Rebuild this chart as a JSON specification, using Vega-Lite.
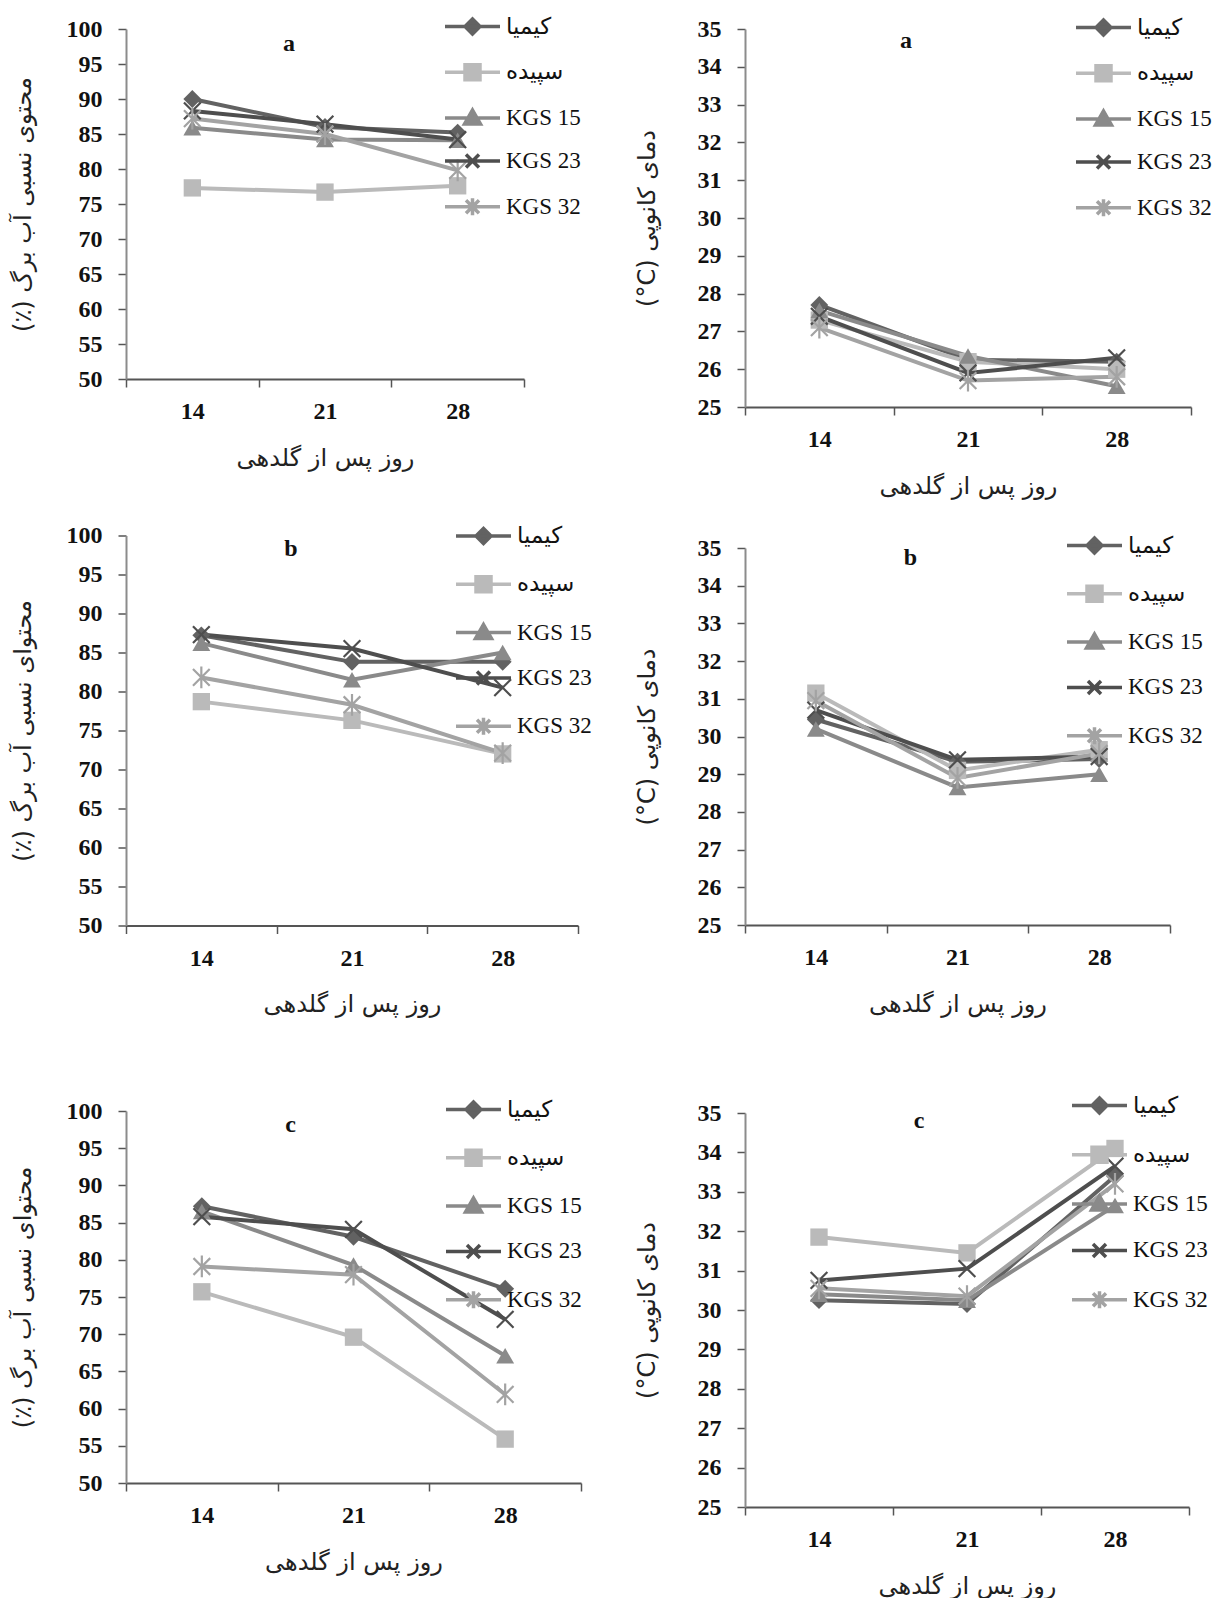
{
  "$schema": "https://vega.github.io/schema/vega-lite/v6.json",
  "background": "white",
  "padding": {"top": 14, "left": 11, "right": 0, "bottom": 0},
  "data": {"values": [
    {"panel": "ra", "day": 14, "cultivar": "کیمیا", "value": 90.0},
    {"panel": "ra", "day": 21, "cultivar": "کیمیا", "value": 86.0},
    {"panel": "ra", "day": 28, "cultivar": "کیمیا", "value": 85.2},
    {"panel": "ra", "day": 14, "cultivar": "سپیده", "value": 77.3},
    {"panel": "ra", "day": 21, "cultivar": "سپیده", "value": 76.7},
    {"panel": "ra", "day": 28, "cultivar": "سپیده", "value": 77.6},
    {"panel": "ra", "day": 14, "cultivar": "KGS 15", "value": 85.9},
    {"panel": "ra", "day": 21, "cultivar": "KGS 15", "value": 84.2},
    {"panel": "ra", "day": 28, "cultivar": "KGS 15", "value": 84.1},
    {"panel": "ra", "day": 14, "cultivar": "KGS 23", "value": 88.3},
    {"panel": "ra", "day": 21, "cultivar": "KGS 23", "value": 86.4},
    {"panel": "ra", "day": 28, "cultivar": "KGS 23", "value": 84.2},
    {"panel": "ra", "day": 14, "cultivar": "KGS 32", "value": 87.2},
    {"panel": "ra", "day": 21, "cultivar": "KGS 32", "value": 85.0},
    {"panel": "ra", "day": 28, "cultivar": "KGS 32", "value": 79.8},

    {"panel": "ta", "day": 14, "cultivar": "کیمیا", "value": 27.7},
    {"panel": "ta", "day": 21, "cultivar": "کیمیا", "value": 26.25},
    {"panel": "ta", "day": 28, "cultivar": "کیمیا", "value": 26.2},
    {"panel": "ta", "day": 14, "cultivar": "سپیده", "value": 27.3},
    {"panel": "ta", "day": 21, "cultivar": "سپیده", "value": 26.2},
    {"panel": "ta", "day": 28, "cultivar": "سپیده", "value": 26.0},
    {"panel": "ta", "day": 14, "cultivar": "KGS 15", "value": 27.55},
    {"panel": "ta", "day": 21, "cultivar": "KGS 15", "value": 26.35},
    {"panel": "ta", "day": 28, "cultivar": "KGS 15", "value": 25.55},
    {"panel": "ta", "day": 14, "cultivar": "KGS 23", "value": 27.4},
    {"panel": "ta", "day": 21, "cultivar": "KGS 23", "value": 25.9},
    {"panel": "ta", "day": 28, "cultivar": "KGS 23", "value": 26.3},
    {"panel": "ta", "day": 14, "cultivar": "KGS 32", "value": 27.1},
    {"panel": "ta", "day": 21, "cultivar": "KGS 32", "value": 25.7},
    {"panel": "ta", "day": 28, "cultivar": "KGS 32", "value": 25.8},

    {"panel": "rb", "day": 14, "cultivar": "کیمیا", "value": 87.2},
    {"panel": "rb", "day": 21, "cultivar": "کیمیا", "value": 83.8},
    {"panel": "rb", "day": 28, "cultivar": "کیمیا", "value": 83.8},
    {"panel": "rb", "day": 14, "cultivar": "سپیده", "value": 78.7},
    {"panel": "rb", "day": 21, "cultivar": "سپیده", "value": 76.3},
    {"panel": "rb", "day": 28, "cultivar": "سپیده", "value": 72.0},
    {"panel": "rb", "day": 14, "cultivar": "KGS 15", "value": 86.2},
    {"panel": "rb", "day": 21, "cultivar": "KGS 15", "value": 81.5},
    {"panel": "rb", "day": 28, "cultivar": "KGS 15", "value": 85.0},
    {"panel": "rb", "day": 14, "cultivar": "KGS 23", "value": 87.3},
    {"panel": "rb", "day": 21, "cultivar": "KGS 23", "value": 85.5},
    {"panel": "rb", "day": 28, "cultivar": "KGS 23", "value": 80.5},
    {"panel": "rb", "day": 14, "cultivar": "KGS 32", "value": 81.8},
    {"panel": "rb", "day": 21, "cultivar": "KGS 32", "value": 78.3},
    {"panel": "rb", "day": 28, "cultivar": "KGS 32", "value": 72.1},

    {"panel": "tb", "day": 14, "cultivar": "کیمیا", "value": 30.45},
    {"panel": "tb", "day": 21, "cultivar": "کیمیا", "value": 29.33},
    {"panel": "tb", "day": 28, "cultivar": "کیمیا", "value": 29.4},
    {"panel": "tb", "day": 14, "cultivar": "سپیده", "value": 31.15},
    {"panel": "tb", "day": 21, "cultivar": "سپیده", "value": 29.1},
    {"panel": "tb", "day": 28, "cultivar": "سپیده", "value": 29.65},
    {"panel": "tb", "day": 14, "cultivar": "KGS 15", "value": 30.2},
    {"panel": "tb", "day": 21, "cultivar": "KGS 15", "value": 28.65},
    {"panel": "tb", "day": 28, "cultivar": "KGS 15", "value": 29.0},
    {"panel": "tb", "day": 14, "cultivar": "KGS 23", "value": 30.7},
    {"panel": "tb", "day": 21, "cultivar": "KGS 23", "value": 29.38},
    {"panel": "tb", "day": 28, "cultivar": "KGS 23", "value": 29.47},
    {"panel": "tb", "day": 14, "cultivar": "KGS 32", "value": 30.95},
    {"panel": "tb", "day": 21, "cultivar": "KGS 32", "value": 28.9},
    {"panel": "tb", "day": 28, "cultivar": "KGS 32", "value": 29.55},

    {"panel": "rc", "day": 14, "cultivar": "کیمیا", "value": 87.2},
    {"panel": "rc", "day": 21, "cultivar": "کیمیا", "value": 83.1},
    {"panel": "rc", "day": 28, "cultivar": "کیمیا", "value": 76.1},
    {"panel": "rc", "day": 14, "cultivar": "سپیده", "value": 75.7},
    {"panel": "rc", "day": 21, "cultivar": "سپیده", "value": 69.6},
    {"panel": "rc", "day": 28, "cultivar": "سپیده", "value": 55.9},
    {"panel": "rc", "day": 14, "cultivar": "KGS 15", "value": 86.5},
    {"panel": "rc", "day": 21, "cultivar": "KGS 15", "value": 79.3},
    {"panel": "rc", "day": 28, "cultivar": "KGS 15", "value": 67.1},
    {"panel": "rc", "day": 14, "cultivar": "KGS 23", "value": 85.8},
    {"panel": "rc", "day": 21, "cultivar": "KGS 23", "value": 84.1},
    {"panel": "rc", "day": 28, "cultivar": "KGS 23", "value": 72.0},
    {"panel": "rc", "day": 14, "cultivar": "KGS 32", "value": 79.1},
    {"panel": "rc", "day": 21, "cultivar": "KGS 32", "value": 78.0},
    {"panel": "rc", "day": 28, "cultivar": "KGS 32", "value": 61.9},

    {"panel": "tc", "day": 14, "cultivar": "کیمیا", "value": 30.25},
    {"panel": "tc", "day": 21, "cultivar": "کیمیا", "value": 30.15},
    {"panel": "tc", "day": 28, "cultivar": "کیمیا", "value": 33.4},
    {"panel": "tc", "day": 14, "cultivar": "سپیده", "value": 31.85},
    {"panel": "tc", "day": 21, "cultivar": "سپیده", "value": 31.45},
    {"panel": "tc", "day": 28, "cultivar": "سپیده", "value": 34.1},
    {"panel": "tc", "day": 14, "cultivar": "KGS 15", "value": 30.4},
    {"panel": "tc", "day": 21, "cultivar": "KGS 15", "value": 30.25},
    {"panel": "tc", "day": 28, "cultivar": "KGS 15", "value": 32.65},
    {"panel": "tc", "day": 14, "cultivar": "KGS 23", "value": 30.75},
    {"panel": "tc", "day": 21, "cultivar": "KGS 23", "value": 31.05},
    {"panel": "tc", "day": 28, "cultivar": "KGS 23", "value": 33.65},
    {"panel": "tc", "day": 14, "cultivar": "KGS 32", "value": 30.55},
    {"panel": "tc", "day": 21, "cultivar": "KGS 32", "value": 30.35},
    {"panel": "tc", "day": 28, "cultivar": "KGS 32", "value": 33.2}
  ]},
  "config": {
    "view": {"stroke": null},
    "axis": {
      "labelFont": "Liberation Serif", "labelFontSize": 24, "labelFontWeight": "bold", "labelColor": "#111111",
      "titleFont": "DejaVu Sans", "titleFontSize": 24, "titleFontWeight": "normal", "titleColor": "#222222",
      "grid": false, "tickColor": "#555555", "tickSize": 8, "tickWidth": 1.5, "domainColor": "#8c8c8c", "domainWidth": 2
    },
    "axisX": {"domainColor": "#555555", "labelAngle": 0, "labelPadding": 12.5, "titlePadding": 22.5, "tickBand": "extent"},
    "axisY": {"labelPadding": 16, "titlePadding": 30.5},
    "legend": {
      "orient": "none", "title": null, "padding": 0, "offset": 0,
      "labelFont": "Liberation Serif, DejaVu Sans", "labelFontSize": 23, "labelColor": "#111111", "labelOffset": 4, "labelLimit": 200,
      "symbolSize": 400, "symbolStrokeWidth": 3.5, "symbolOpacity": 1
    },
    "title": {"font": "Liberation Serif", "fontSize": 24, "fontWeight": "bold", "color": "#111111", "anchor": "middle"}
  },
  "resolve": {"scale": {"color": "independent", "shape": "independent", "x": "independent", "y": "independent"}, "legend": {"color": "independent", "shape": "independent"}},
  "spacing": 43,
  "hconcat": [
    {
      "spacing": 53.5,
      "resolve": {"scale": {"color": "independent", "shape": "independent", "x": "independent", "y": "independent"}, "legend": {"color": "independent", "shape": "independent"}},
      "vconcat": [
        {
          "width": 398, "height": 350,
          "title": {"text": "a", "dx": -36, "offset": -23, "dy": 18},
          "transform": [{"filter": "datum.panel === 'ra'"}],
          "encoding": {
            "x": {"field": "day", "type": "ordinal", "scale": {"type": "band", "paddingInner": 0, "paddingOuter": 0}, "axis": {"title": "روز پس از گلدهی"}},
            "y": {"field": "value", "type": "quantitative", "scale": {"domain": [50, 100], "nice": false, "zero": false}, "axis": {"values": [50, 55, 60, 65, 70, 75, 80, 85, 90, 95, 100], "title": "(٪) محتوی نسبی آب برگ"}},
            "color": {"field": "cultivar", "type": "nominal", "scale": {"domain": ["کیمیا", "سپیده", "KGS 15", "KGS 23", "KGS 32"], "range": ["#626262", "#bababa", "#8a8a8a", "#4e4e4e", "#a3a3a3"]}, "legend": {"legendX": 352, "legendY": -14.5, "rowPadding": 15.8}}
          },
          "layer": [
            {"mark": {"type": "line", "strokeWidth": 4}},
            {"transform": [{"filter": "datum.cultivar === 'کیمیا'"}], "mark": {"type": "point", "shape": "diamond", "filled": true, "size": 320, "opacity": 1}},
            {"transform": [{"filter": "datum.cultivar === 'سپیده'"}], "mark": {"type": "point", "shape": "square", "filled": true, "size": 300, "opacity": 1}},
            {"transform": [{"filter": "datum.cultivar === 'KGS 15'"}], "mark": {"type": "point", "shape": "triangle-up", "filled": true, "size": 320, "opacity": 1}},
            {"transform": [{"filter": "datum.cultivar === 'KGS 23'"}], "mark": {"type": "point", "shape": "M-1,-1L1,1M-1,1L1,-1", "filled": false, "size": 280, "strokeWidth": 2.2, "opacity": 1}},
            {"transform": [{"filter": "datum.cultivar === 'KGS 32'"}], "mark": {"type": "point", "shape": "M-1,-1L1,1M-1,1L1,-1M0,-1.3V1.3", "filled": false, "size": 280, "strokeWidth": 2.2, "opacity": 1}},
            {"transform": [{"filter": "false"}], "mark": {"type": "point", "filled": true, "strokeWidth": 3.5},
             "encoding": {"shape": {"field": "cultivar", "type": "nominal", "scale": {"domain": ["کیمیا", "سپیده", "KGS 15", "KGS 23", "KGS 32"], "range": ["M-4.5,0H1M-1.75,-0.75L-1,0L-1.75,0.75L-2.5,0Z", "M-4.5,0H1M-2.5,-0.75H-1V0.75H-2.5Z", "M-4.5,0H1M-1.75,-0.8L-0.95,0.6H-2.55Z", "M-4.5,0H1M-2.4,-0.65L-1.1,0.65M-2.4,0.65L-1.1,-0.65", "M-4.5,0H1M-2.4,-0.65L-1.1,0.65M-2.4,0.65L-1.1,-0.65M-1.75,-0.85V0.85"]}, "legend": {"legendX": 352, "legendY": -14.5, "rowPadding": 15.8}}}}
          ]
        },
        {
          "spacing": 80.5,
          "resolve": {"scale": {"color": "independent", "shape": "independent", "x": "independent", "y": "independent"}, "legend": {"color": "independent", "shape": "independent"}},
          "vconcat": [
            {
              "width": 452, "height": 390,
              "title": {"text": "b", "dx": -61, "offset": -23, "dy": 14},
              "transform": [{"filter": "datum.panel === 'rb'"}],
              "encoding": {
                "x": {"field": "day", "type": "ordinal", "scale": {"type": "band", "paddingInner": 0, "paddingOuter": 0}, "axis": {"title": "روز پس از گلدهی"}},
                "y": {"field": "value", "type": "quantitative", "scale": {"domain": [50, 100], "nice": false, "zero": false}, "axis": {"values": [50, 55, 60, 65, 70, 75, 80, 85, 90, 95, 100], "title": "(٪) محتوای نسبی آب برگ"}},
                "color": {"field": "cultivar", "type": "nominal", "scale": {"domain": ["کیمیا", "سپیده", "KGS 15", "KGS 23", "KGS 32"], "range": ["#626262", "#bababa", "#8a8a8a", "#4e4e4e", "#a3a3a3"]}, "legend": {"legendX": 363, "legendY": -11.5, "rowPadding": 18.3}}
              },
              "layer": [
                {"mark": {"type": "line", "strokeWidth": 4}},
                {"transform": [{"filter": "datum.cultivar === 'کیمیا'"}], "mark": {"type": "point", "shape": "diamond", "filled": true, "size": 320, "opacity": 1}},
                {"transform": [{"filter": "datum.cultivar === 'سپیده'"}], "mark": {"type": "point", "shape": "square", "filled": true, "size": 300, "opacity": 1}},
                {"transform": [{"filter": "datum.cultivar === 'KGS 15'"}], "mark": {"type": "point", "shape": "triangle-up", "filled": true, "size": 320, "opacity": 1}},
                {"transform": [{"filter": "datum.cultivar === 'KGS 23'"}], "mark": {"type": "point", "shape": "M-1,-1L1,1M-1,1L1,-1", "filled": false, "size": 280, "strokeWidth": 2.2, "opacity": 1}},
                {"transform": [{"filter": "datum.cultivar === 'KGS 32'"}], "mark": {"type": "point", "shape": "M-1,-1L1,1M-1,1L1,-1M0,-1.3V1.3", "filled": false, "size": 280, "strokeWidth": 2.2, "opacity": 1}},
                {"transform": [{"filter": "false"}], "mark": {"type": "point", "filled": true, "strokeWidth": 3.5},
                 "encoding": {"shape": {"field": "cultivar", "type": "nominal", "scale": {"domain": ["کیمیا", "سپیده", "KGS 15", "KGS 23", "KGS 32"], "range": ["M-4.5,0H1M-1.75,-0.75L-1,0L-1.75,0.75L-2.5,0Z", "M-4.5,0H1M-2.5,-0.75H-1V0.75H-2.5Z", "M-4.5,0H1M-1.75,-0.8L-0.95,0.6H-2.55Z", "M-4.5,0H1M-2.4,-0.65L-1.1,0.65M-2.4,0.65L-1.1,-0.65", "M-4.5,0H1M-2.4,-0.65L-1.1,0.65M-2.4,0.65L-1.1,-0.65M-1.75,-0.85V0.85"]}, "legend": {"legendX": 363, "legendY": -11.5, "rowPadding": 18.3}}}}
              ]
            },
            {
              "width": 455, "height": 372,
              "title": {"text": "c", "dx": -63, "offset": -23, "dy": 16.5},
              "transform": [{"filter": "datum.panel === 'rc'"}],
              "encoding": {
                "x": {"field": "day", "type": "ordinal", "scale": {"type": "band", "paddingInner": 0, "paddingOuter": 0}, "axis": {"title": "روز پس از گلدهی"}},
                "y": {"field": "value", "type": "quantitative", "scale": {"domain": [50, 100], "nice": false, "zero": false}, "axis": {"values": [50, 55, 60, 65, 70, 75, 80, 85, 90, 95, 100], "title": "(٪) محتوای نسبی آب برگ"}},
                "color": {"field": "cultivar", "type": "nominal", "scale": {"domain": ["کیمیا", "سپیده", "KGS 15", "KGS 23", "KGS 32"], "range": ["#626262", "#bababa", "#8a8a8a", "#4e4e4e", "#a3a3a3"]}, "legend": {"legendX": 353, "legendY": -13.5, "rowPadding": 18.3}}
              },
              "layer": [
                {"mark": {"type": "line", "strokeWidth": 4}},
                {"transform": [{"filter": "datum.cultivar === 'کیمیا'"}], "mark": {"type": "point", "shape": "diamond", "filled": true, "size": 320, "opacity": 1}},
                {"transform": [{"filter": "datum.cultivar === 'سپیده'"}], "mark": {"type": "point", "shape": "square", "filled": true, "size": 300, "opacity": 1}},
                {"transform": [{"filter": "datum.cultivar === 'KGS 15'"}], "mark": {"type": "point", "shape": "triangle-up", "filled": true, "size": 320, "opacity": 1}},
                {"transform": [{"filter": "datum.cultivar === 'KGS 23'"}], "mark": {"type": "point", "shape": "M-1,-1L1,1M-1,1L1,-1", "filled": false, "size": 280, "strokeWidth": 2.2, "opacity": 1}},
                {"transform": [{"filter": "datum.cultivar === 'KGS 32'"}], "mark": {"type": "point", "shape": "M-1,-1L1,1M-1,1L1,-1M0,-1.3V1.3", "filled": false, "size": 280, "strokeWidth": 2.2, "opacity": 1}},
                {"transform": [{"filter": "false"}], "mark": {"type": "point", "filled": true, "strokeWidth": 3.5},
                 "encoding": {"shape": {"field": "cultivar", "type": "nominal", "scale": {"domain": ["کیمیا", "سپیده", "KGS 15", "KGS 23", "KGS 32"], "range": ["M-4.5,0H1M-1.75,-0.75L-1,0L-1.75,0.75L-2.5,0Z", "M-4.5,0H1M-2.5,-0.75H-1V0.75H-2.5Z", "M-4.5,0H1M-1.75,-0.8L-0.95,0.6H-2.55Z", "M-4.5,0H1M-2.4,-0.65L-1.1,0.65M-2.4,0.65L-1.1,-0.65", "M-4.5,0H1M-2.4,-0.65L-1.1,0.65M-2.4,0.65L-1.1,-0.65M-1.75,-0.85V0.85"]}, "legend": {"legendX": 353, "legendY": -13.5, "rowPadding": 18.3}}}}
              ]
            }
          ]
        }
      ]
    },
    {
      "spacing": 35,
      "resolve": {"scale": {"color": "independent", "shape": "independent", "x": "independent", "y": "independent"}, "legend": {"color": "independent", "shape": "independent"}},
      "vconcat": [
        {
          "width": 446, "height": 378,
          "title": {"text": "a", "dx": -62, "offset": -23, "dy": 14},
          "transform": [{"filter": "datum.panel === 'ta'"}],
          "encoding": {
            "x": {"field": "day", "type": "ordinal", "scale": {"type": "band", "paddingInner": 0, "paddingOuter": 0}, "axis": {"title": "روز پس از گلدهی"}},
            "y": {"field": "value", "type": "quantitative", "scale": {"domain": [25, 35], "nice": false, "zero": false}, "axis": {"values": [25, 26, 27, 28, 29, 30, 31, 32, 33, 34, 35], "title": "(°C) دمای کانوپی", "titlePadding": 37.5}},
            "color": {"field": "cultivar", "type": "nominal", "scale": {"domain": ["کیمیا", "سپیده", "KGS 15", "KGS 23", "KGS 32"], "range": ["#626262", "#bababa", "#8a8a8a", "#4e4e4e", "#a3a3a3"]}, "legend": {"legendX": 364, "legendY": -13.5, "rowPadding": 15.8}}
          },
          "layer": [
            {"mark": {"type": "line", "strokeWidth": 4}},
            {"transform": [{"filter": "datum.cultivar === 'کیمیا'"}], "mark": {"type": "point", "shape": "diamond", "filled": true, "size": 320, "opacity": 1}},
            {"transform": [{"filter": "datum.cultivar === 'سپیده'"}], "mark": {"type": "point", "shape": "square", "filled": true, "size": 300, "opacity": 1}},
            {"transform": [{"filter": "datum.cultivar === 'KGS 15'"}], "mark": {"type": "point", "shape": "triangle-up", "filled": true, "size": 320, "opacity": 1}},
            {"transform": [{"filter": "datum.cultivar === 'KGS 23'"}], "mark": {"type": "point", "shape": "M-1,-1L1,1M-1,1L1,-1", "filled": false, "size": 280, "strokeWidth": 2.2, "opacity": 1}},
            {"transform": [{"filter": "datum.cultivar === 'KGS 32'"}], "mark": {"type": "point", "shape": "M-1,-1L1,1M-1,1L1,-1M0,-1.3V1.3", "filled": false, "size": 280, "strokeWidth": 2.2, "opacity": 1}},
            {"transform": [{"filter": "false"}], "mark": {"type": "point", "filled": true, "strokeWidth": 3.5},
             "encoding": {"shape": {"field": "cultivar", "type": "nominal", "scale": {"domain": ["کیمیا", "سپیده", "KGS 15", "KGS 23", "KGS 32"], "range": ["M-4.5,0H1M-1.75,-0.75L-1,0L-1.75,0.75L-2.5,0Z", "M-4.5,0H1M-2.5,-0.75H-1V0.75H-2.5Z", "M-4.5,0H1M-1.75,-0.8L-0.95,0.6H-2.55Z", "M-4.5,0H1M-2.4,-0.65L-1.1,0.65M-2.4,0.65L-1.1,-0.65", "M-4.5,0H1M-2.4,-0.65L-1.1,0.65M-2.4,0.65L-1.1,-0.65M-1.75,-0.85V0.85"]}, "legend": {"legendX": 364, "legendY": -13.5, "rowPadding": 15.8}}}}
          ]
        },
        {
          "spacing": 77,
          "resolve": {"scale": {"color": "independent", "shape": "independent", "x": "independent", "y": "independent"}, "legend": {"color": "independent", "shape": "independent"}},
          "vconcat": [
            {
              "width": 425, "height": 377,
              "title": {"text": "b", "dx": -47, "offset": -23, "dy": 13.5},
              "transform": [{"filter": "datum.panel === 'tb'"}],
              "encoding": {
                "x": {"field": "day", "type": "ordinal", "scale": {"type": "band", "paddingInner": 0, "paddingOuter": 0}, "axis": {"title": "روز پس از گلدهی"}},
                "y": {"field": "value", "type": "quantitative", "scale": {"domain": [25, 35], "nice": false, "zero": false}, "axis": {"values": [25, 26, 27, 28, 29, 30, 31, 32, 33, 34, 35], "title": "(°C) دمای کانوپی", "titlePadding": 37.5}},
                "color": {"field": "cultivar", "type": "nominal", "scale": {"domain": ["کیمیا", "سپیده", "KGS 15", "KGS 23", "KGS 32"], "range": ["#626262", "#bababa", "#8a8a8a", "#4e4e4e", "#a3a3a3"]}, "legend": {"legendX": 355, "legendY": -14.5, "rowPadding": 18.3}}
              },
              "layer": [
                {"mark": {"type": "line", "strokeWidth": 4}},
                {"transform": [{"filter": "datum.cultivar === 'کیمیا'"}], "mark": {"type": "point", "shape": "diamond", "filled": true, "size": 320, "opacity": 1}},
                {"transform": [{"filter": "datum.cultivar === 'سپیده'"}], "mark": {"type": "point", "shape": "square", "filled": true, "size": 300, "opacity": 1}},
                {"transform": [{"filter": "datum.cultivar === 'KGS 15'"}], "mark": {"type": "point", "shape": "triangle-up", "filled": true, "size": 320, "opacity": 1}},
                {"transform": [{"filter": "datum.cultivar === 'KGS 23'"}], "mark": {"type": "point", "shape": "M-1,-1L1,1M-1,1L1,-1", "filled": false, "size": 280, "strokeWidth": 2.2, "opacity": 1}},
                {"transform": [{"filter": "datum.cultivar === 'KGS 32'"}], "mark": {"type": "point", "shape": "M-1,-1L1,1M-1,1L1,-1M0,-1.3V1.3", "filled": false, "size": 280, "strokeWidth": 2.2, "opacity": 1}},
                {"transform": [{"filter": "false"}], "mark": {"type": "point", "filled": true, "strokeWidth": 3.5},
                 "encoding": {"shape": {"field": "cultivar", "type": "nominal", "scale": {"domain": ["کیمیا", "سپیده", "KGS 15", "KGS 23", "KGS 32"], "range": ["M-4.5,0H1M-1.75,-0.75L-1,0L-1.75,0.75L-2.5,0Z", "M-4.5,0H1M-2.5,-0.75H-1V0.75H-2.5Z", "M-4.5,0H1M-1.75,-0.8L-0.95,0.6H-2.55Z", "M-4.5,0H1M-2.4,-0.65L-1.1,0.65M-2.4,0.65L-1.1,-0.65", "M-4.5,0H1M-2.4,-0.65L-1.1,0.65M-2.4,0.65L-1.1,-0.65M-1.75,-0.85V0.85"]}, "legend": {"legendX": 355, "legendY": -14.5, "rowPadding": 18.3}}}}
              ]
            },
            {
              "width": 444, "height": 394,
              "title": {"text": "c", "dx": -48, "offset": -23, "dy": 16.5},
              "transform": [{"filter": "datum.panel === 'tc'"}],
              "encoding": {
                "x": {"field": "day", "type": "ordinal", "scale": {"type": "band", "paddingInner": 0, "paddingOuter": 0}, "axis": {"title": "روز پس از گلدهی"}},
                "y": {"field": "value", "type": "quantitative", "scale": {"domain": [25, 35], "nice": false, "zero": false}, "axis": {"values": [25, 26, 27, 28, 29, 30, 31, 32, 33, 34, 35], "title": "(°C) دمای کانوپی", "titlePadding": 37.5}},
                "color": {"field": "cultivar", "type": "nominal", "scale": {"domain": ["کیمیا", "سپیده", "KGS 15", "KGS 23", "KGS 32"], "range": ["#626262", "#bababa", "#8a8a8a", "#4e4e4e", "#a3a3a3"]}, "legend": {"legendX": 360, "legendY": -19.5, "rowPadding": 19.3}}
              },
              "layer": [
                {"mark": {"type": "line", "strokeWidth": 4}},
                {"transform": [{"filter": "datum.cultivar === 'کیمیا'"}], "mark": {"type": "point", "shape": "diamond", "filled": true, "size": 320, "opacity": 1}},
                {"transform": [{"filter": "datum.cultivar === 'سپیده'"}], "mark": {"type": "point", "shape": "square", "filled": true, "size": 300, "opacity": 1}},
                {"transform": [{"filter": "datum.cultivar === 'KGS 15'"}], "mark": {"type": "point", "shape": "triangle-up", "filled": true, "size": 320, "opacity": 1}},
                {"transform": [{"filter": "datum.cultivar === 'KGS 23'"}], "mark": {"type": "point", "shape": "M-1,-1L1,1M-1,1L1,-1", "filled": false, "size": 280, "strokeWidth": 2.2, "opacity": 1}},
                {"transform": [{"filter": "datum.cultivar === 'KGS 32'"}], "mark": {"type": "point", "shape": "M-1,-1L1,1M-1,1L1,-1M0,-1.3V1.3", "filled": false, "size": 280, "strokeWidth": 2.2, "opacity": 1}},
                {"transform": [{"filter": "false"}], "mark": {"type": "point", "filled": true, "strokeWidth": 3.5},
                 "encoding": {"shape": {"field": "cultivar", "type": "nominal", "scale": {"domain": ["کیمیا", "سپیده", "KGS 15", "KGS 23", "KGS 32"], "range": ["M-4.5,0H1M-1.75,-0.75L-1,0L-1.75,0.75L-2.5,0Z", "M-4.5,0H1M-2.5,-0.75H-1V0.75H-2.5Z", "M-4.5,0H1M-1.75,-0.8L-0.95,0.6H-2.55Z", "M-4.5,0H1M-2.4,-0.65L-1.1,0.65M-2.4,0.65L-1.1,-0.65", "M-4.5,0H1M-2.4,-0.65L-1.1,0.65M-2.4,0.65L-1.1,-0.65M-1.75,-0.85V0.85"]}, "legend": {"legendX": 360, "legendY": -19.5, "rowPadding": 19.3}}}}
              ]
            }
          ]
        }
      ]
    }
  ]
}
